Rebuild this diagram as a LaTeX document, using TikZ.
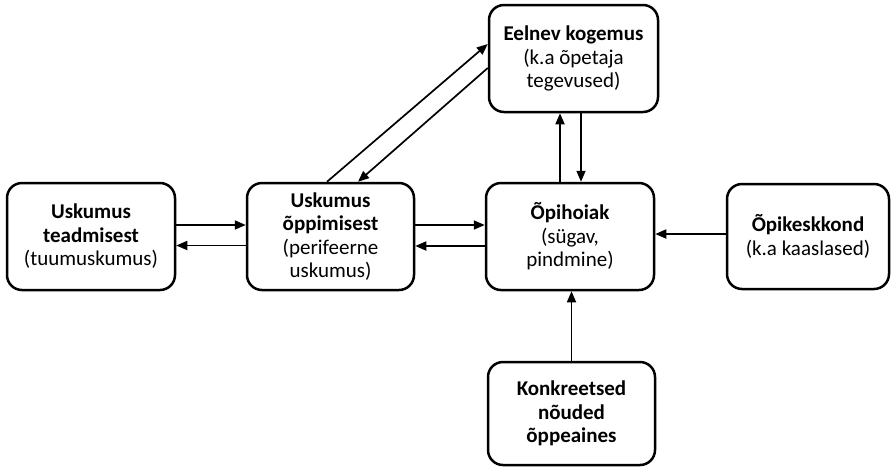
\documentclass[tikz,border=0pt]{standalone}
\usepackage{fontspec}
\setmainfont{Carlito}
\usetikzlibrary{arrows.meta}
\begin{document}
\begin{tikzpicture}[x=1pt,y=-1pt,
  box/.style={draw=black, line width=2.5pt, rounded corners=15pt, align=center,
    inner sep=0pt, font=\fontsize{21}{23.5}\selectfont},
  arr/.style={draw=black, line width=1.7pt, -{Triangle[length=11pt,width=9pt]}}]
\useasboundingbox (0,0) rectangle (891,467);
\node[box, minimum width=168pt, minimum height=107pt] (b1) at (91,236.5)
  {\textbf{Uskumus}\\\textbf{teadmisest}\\(tuumuskumus)};
\node[box, minimum width=167pt, minimum height=107pt] (b2) at (330.5,236.5)
  {\textbf{Uskumus}\\\textbf{õppimisest}\\(perifeerne\\uskumus)};
\node[box, minimum width=168pt, minimum height=107pt] (b3) at (570,236.5)
  {\textbf{Õpihoiak}\\(sügav,\\pindmine)};
\node[box, minimum width=162pt, minimum height=105pt] (b4) at (808,236.5)
  {\textbf{Õpikeskkond}\\(k.a kaaslased)};
\node[box, minimum width=169pt, minimum height=107pt] (b5) at (573.5,58.5)
  {\textbf{Eelnev kogemus}\\(k.a õpetaja\\tegevused)};
\node[box, minimum width=167pt, minimum height=103pt] (b6) at (571.5,413.5)
  {\textbf{Konkreetsed}\\\textbf{nõuded}\\\textbf{õppeaines}};
% horizontal arrows
\draw[arr] ([yshift=11.5pt]b1.east) -- ([yshift=11.5pt]b2.west);
\draw[arr] ([yshift=-9pt]b2.west) -- ([yshift=-9pt]b1.east);
\draw[arr] ([yshift=11.5pt]b2.east) -- ([yshift=11.5pt]b3.west);
\draw[arr] ([yshift=-9.5pt]b3.west) -- ([yshift=-9.5pt]b2.east);
\draw[arr] ([yshift=2.5pt]b4.west) -- ([yshift=2.5pt]b3.east);
% vertical arrows
\draw[arr] ([xshift=-10pt]b3.north) -- ([xshift=-10pt]b3.north |- b5.south);
\draw[arr] ([xshift=11pt]b3.north |- b5.south) -- ([xshift=11pt]b3.north);
\draw[arr] (b6.north) -- (b6.north |- b3.south);
% diagonal arrows
\draw[arr] ([xshift=-3.5pt]b2.north) -- ([yshift=14.5pt]b5.west);
\draw[arr] ([yshift=-9.5pt]b5.west) -- ([xshift=27.5pt]b2.north);
\end{tikzpicture}
\end{document}
